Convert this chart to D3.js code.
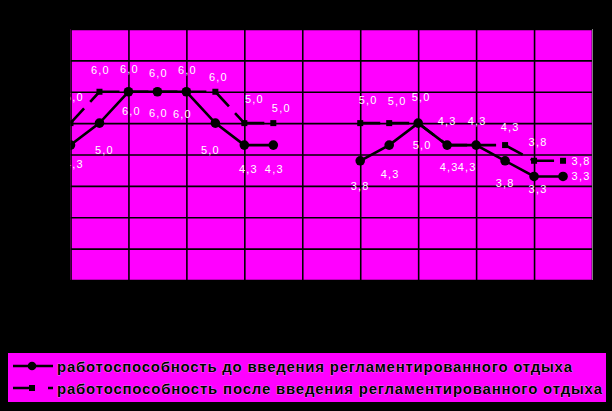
<!DOCTYPE html>
<html><head><meta charset="utf-8">
<script src="https://cdn.jsdelivr.net/npm/d3@7"></script>
<style>body{margin:0;background:#000;overflow:hidden}svg{display:block}</style>
</head><body>
<svg id="c" width="612" height="411"></svg>
<script>
// ---- data ----
const categories = [1,2,3,4,5,6,7,8,9,10,11,12,13,14,15,16,17,18];
const before = [4.3,5.0,6.0,6.0,6.0,5.0,4.3,4.3,null,null,3.8,4.3,5.0,4.3,4.3,3.8,3.3,3.3];
const after  = [5.0,6.0,6.0,6.0,6.0,6.0,5.0,5.0,null,null,5.0,5.0,5.0,4.3,4.3,4.3,3.8,3.8];
const yTicks = [0,1,2,3,4,5,6,7,8];
const xGridTicks = [0,2,4,6,8,10,12,14,16,18];
const seriesNames = [
  "работоспособность до введения регламентированного отдыха",
  "работоспособность после введения регламентированного отдыха"
];
// ---- label nudges (layout only, px relative to the point) ----
const nudgeBefore = [[4,19],[5,27],[3,19],[1,21],[-4,22],[-5,27],[4,24],[1,24],null,null,
  [0,25],[1,29],[4,22],[2,22],[-9,22],[0,22],[4,13],[18,0]];
const nudgeAfter = [[4,-26],[1,-22],[1,-23],[1,-19],[1,-22],[3,-15],[10,-24],[8,-15],null,null,
  [8,-23],[8,-22],[3,-26],[0,-24],[1,-24],[5,-18],[4,-19],[18,0]];

const svg = d3.select("#c");
const L = 70.5, R = 592, T = 29, B = 280;
const x = d3.scaleLinear().domain([0, categories.length]).range([L, R]);
const y = d3.scaleLinear().domain([0, 8]).range([B, T]);

svg.append("rect").attr("width",612).attr("height",411).attr("fill","#000");
svg.append("defs").append("clipPath").attr("id","clip")
  .append("rect").attr("x",L).attr("y",T).attr("width",R-L).attr("height",B-T);

svg.append("rect").attr("x",L).attr("y",T).attr("width",R-L).attr("height",B-T).attr("fill","#ff00ff");

const g = svg.append("g").attr("clip-path","url(#clip)");

// gridlines via axes
const gx = g.append("g").attr("transform",`translate(0,${B})`)
  .call(d3.axisBottom(x).tickValues(xGridTicks).tickSize(-(B-T)).tickFormat(""));
const gy = g.append("g").attr("transform",`translate(${L},0)`)
  .call(d3.axisLeft(y).tickValues(yTicks).tickSize(-(R-L)).tickFormat(""));
[gx, gy].forEach(a => {
  a.select(".domain").remove();
  a.selectAll("line").attr("stroke","#000").attr("stroke-width",1.6);
});
svg.append("line").attr("x1",R+0.5).attr("x2",R+0.5).attr("y1",T).attr("y2",B)
  .attr("stroke","#808080").attr("stroke-width",1);

// series "before": solid line with circles
const line = d3.line().defined(d => d != null).x((d,i) => x(i)).y(d => y(d));
g.append("path").datum(before).attr("d", line)
  .attr("fill","none").attr("stroke","#000").attr("stroke-width",2.6);

// series "after": dashed segments with squares
const segs = [];
after.forEach((v,i) => { if (v != null && i+1 < after.length && after[i+1] != null) segs.push(i); });
g.selectAll(".seg").data(segs).join("line").attr("class","seg")
  .attr("x1", i => x(i)).attr("y1", i => y(after[i]))
  .attr("x2", i => x(i+1)).attr("y2", i => y(after[i+1]))
  .attr("stroke","#000").attr("stroke-width",2.6).attr("stroke-dasharray","20,9");

const idxB = before.map((v,i)=>i).filter(i => before[i] != null);
const idxA = after.map((v,i)=>i).filter(i => after[i] != null);

g.selectAll(".sq").data(idxA).join("rect").attr("class","sq")
  .attr("x", i => x(i)-3).attr("y", i => y(after[i])-3).attr("width",6).attr("height",6).attr("fill","#000");
g.selectAll(".ci").data(idxB).join("circle").attr("class","ci")
  .attr("cx", i => x(i)).attr("cy", i => y(before[i])).attr("r",4.8).attr("fill","#000");

const fmt = v => v.toFixed(1).replace(".", ",");
function labels(vals, nudge, cls) {
  g.selectAll("."+cls).data(vals.map((v,i)=>i).filter(i => vals[i] != null)).join("text")
    .attr("class", cls)
    .attr("x", i => x(i) + nudge[i][0]).attr("y", i => y(vals[i]) + nudge[i][1])
    .attr("text-anchor","middle").attr("dominant-baseline","central")
    .attr("font-family","Liberation Sans, Arial, sans-serif").attr("font-size",11)
    .attr("letter-spacing","1.2px")
    .attr("fill","#ffffff")
    .text(i => fmt(vals[i]));
}
labels(before, nudgeBefore, "lb");
labels(after, nudgeAfter, "la");

// ---- legend ----
const lg = svg.append("g");
lg.append("rect").attr("x",8).attr("y",353).attr("width",598).attr("height",49).attr("fill","#ff00ff");
const rows = [{y:366, end:572}, {y:388, end:602}];
lg.append("line").attr("x1",13).attr("x2",53).attr("y1",rows[0].y).attr("y2",rows[0].y)
  .attr("stroke","#000").attr("stroke-width",2.6);
lg.append("circle").attr("cx",32).attr("cy",rows[0].y).attr("r",4.3).attr("fill","#000");
lg.append("line").attr("x1",13).attr("x2",53).attr("y1",rows[1].y).attr("y2",rows[1].y)
  .attr("stroke","#000").attr("stroke-width",2.6).attr("stroke-dasharray","19,16");
lg.append("rect").attr("x",29).attr("y",rows[1].y-3).attr("width",6).attr("height",6).attr("fill","#000");
seriesNames.forEach((name, k) => {
  lg.append("text").attr("x",57).attr("y",rows[k].y).attr("dominant-baseline","central")
    .attr("font-family","Liberation Sans, Arial, sans-serif").attr("font-weight","bold")
    .attr("font-size",15).attr("fill","#000")
    .attr("stroke","#e6c8e6").attr("stroke-width",0.6).attr("paint-order","stroke")
    .attr("textLength", rows[k].end - 57).attr("lengthAdjust","spacing")
    .text(name);
});
</script>
</body></html>
